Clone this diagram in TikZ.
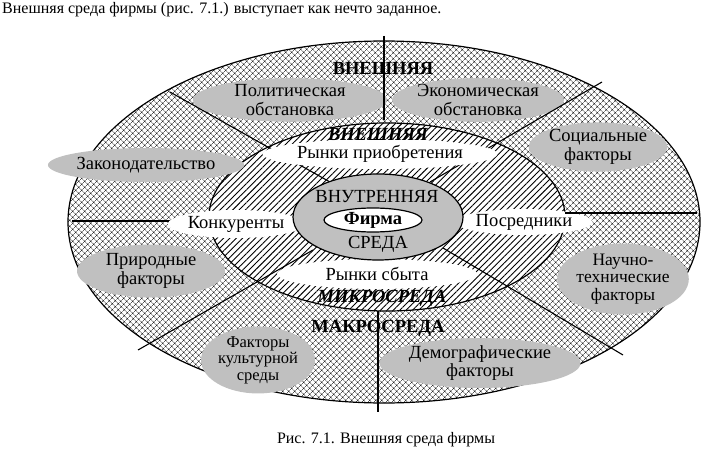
\documentclass[tikz,border=0pt]{standalone}
\usepackage{fontspec}
\setmainfont{Liberation Serif}
\usetikzlibrary{shapes.geometric,patterns.meta}
\definecolor{fgray}{RGB}{192,192,192}
\begin{document}
\begin{tikzpicture}[x=1pt,y=-1pt,
  ring/.style={ellipse, draw, line width=1.2pt, inner sep=0pt},
  factor/.style={ellipse, fill=fgray, inner sep=0pt, align=center, font=\fontsize{18.5}{18.5}\selectfont},
  wlabel/.style={ellipse, fill=white, inner sep=0pt, font=\fontsize{18.5}{19}\selectfont},
  spoke/.style={line width=1.1pt},
  plain/.style={inner sep=0pt, font=\fontsize{18.5}{19}\selectfont},
  bigb/.style={inner sep=0pt, font=\fontsize{18.5}{20}\selectfont\bfseries},
  bigbi/.style={inner sep=0pt, font=\fontsize{18.5}{20}\selectfont\bfseries\itshape},
  txt/.style={inner sep=0pt, font=\fontsize{16}{18}\selectfont}
]
\useasboundingbox (0,0) rectangle (712,449);
\node[txt, anchor=west] (title) at (2,10) {Внешняя среда фирмы (рис. 7.1.) выступает как нечто заданное.};

% rings
\node[ring, minimum width=632, minimum height=362, preaction={fill=white},
      pattern={Hatch[angle=45,distance=4pt,line width=0.45pt]}] (outer) at (384,222) {};
\node[ring, minimum width=356, minimum height=188, preaction={fill=white},
      pattern={Lines[angle=45,distance=4.5pt,line width=0.9pt]}] (middle) at (387,217) {};

% macro factors
\node[factor, minimum width=194, minimum height=40] (pol) at (290,100) {Политическая\\обстановка};
\node[factor, minimum width=150, minimum height=40] (eco) at (478,100) {Экономическая\\обстановка};
\node[factor, minimum width=130, minimum height=42] (soc) at (598,147) {Социальные\\факторы};
\node[factor, minimum width=162, minimum height=34] (law) at (146,165) {Законодательство};
\node[factor, minimum width=148, minimum height=53] (nat) at (151,271) {Природные\\факторы};
\node[factor, minimum width=128, minimum height=60, font=\fontsize{17.5}{17.5}\selectfont] (sci) at (623,279) {Научно-\\технические\\факторы};
\node[factor, minimum width=114, minimum height=58, font=\fontsize{16.5}{16.5}\selectfont] (cul) at (258,360) {Факторы\\культурной\\среды};
\node[factor, minimum width=184, minimum height=47] (dem) at (480,363) {Демографические\\факторы};

\node[bigb] (ext) at (383,68) {ВНЕШНЯЯ};
\node[bigb] (macro) at (378,328) {МАКРОСРЕДА};

% spokes
\coordinate (t1) at (384,36);   \coordinate (t2) at (384,120);
\coordinate (ul1) at (170,92);  \coordinate (ul2) at (330,182);
\coordinate (ur1) at (602,82);  \coordinate (ur2) at (430,182);
\coordinate (l1) at (72,221);   \coordinate (l2) at (215,221);
\coordinate (ll1) at (138,350); \coordinate (ll2) at (313,250);
\coordinate (lr1) at (623,355); \coordinate (lr2) at (443,248);
\coordinate (b1) at (378,311);  \coordinate (b2) at (378,412);
\coordinate (r1) at (565,213);  \coordinate (r2) at (697,213);
\draw[spoke] (t1) -- (t2);
\draw[spoke] (ul1) -- (ul2);
\draw[spoke] (ur1) -- (ur2);
\draw[spoke] (l1) -- (l2);
\draw[spoke] (ll1) -- (ll2);
\draw[spoke] (lr1) -- (lr2);
\draw[spoke] (b1) -- (b2);

% micro labels
\node[wlabel, minimum width=198, minimum height=30] (buy) at (380,154) {Рынки приобретения};
\node[wlabel, minimum width=114, minimum height=28] (comp) at (236,224) {Конкуренты};
\node[wlabel, minimum width=116, minimum height=26] (med) at (524,222) {Посредники};
\node[wlabel, minimum width=200, minimum height=30] (sell) at (377,274) {Рынки сбыта};
\draw[spoke] (r1) -- (r2);

\node[bigbi] (ext2) at (378,134) {ВНЕШНЯЯ};
\node[bigbi] (micro) at (382,298) {МИКРОСРЕДА};

% core
\node[ellipse, draw, line width=1.2pt, fill=fgray, minimum width=170, minimum height=86] (inner) at (378,217) {};
\node[ellipse, draw, line width=1.2pt, fill=white, minimum width=98, minimum height=24, inner sep=0pt,
      font=\fontsize{18.5}{19}\selectfont\bfseries] (firm) at (373,220) {Фирма};
\node[plain] (intl) at (377,197) {ВНУТРЕННЯЯ};
\node[plain] (env) at (378,244) {СРЕДА};

\node[txt] (cap) at (386,440) {Рис. 7.1. Внешняя среда фирмы};
\end{tikzpicture}
\end{document}
